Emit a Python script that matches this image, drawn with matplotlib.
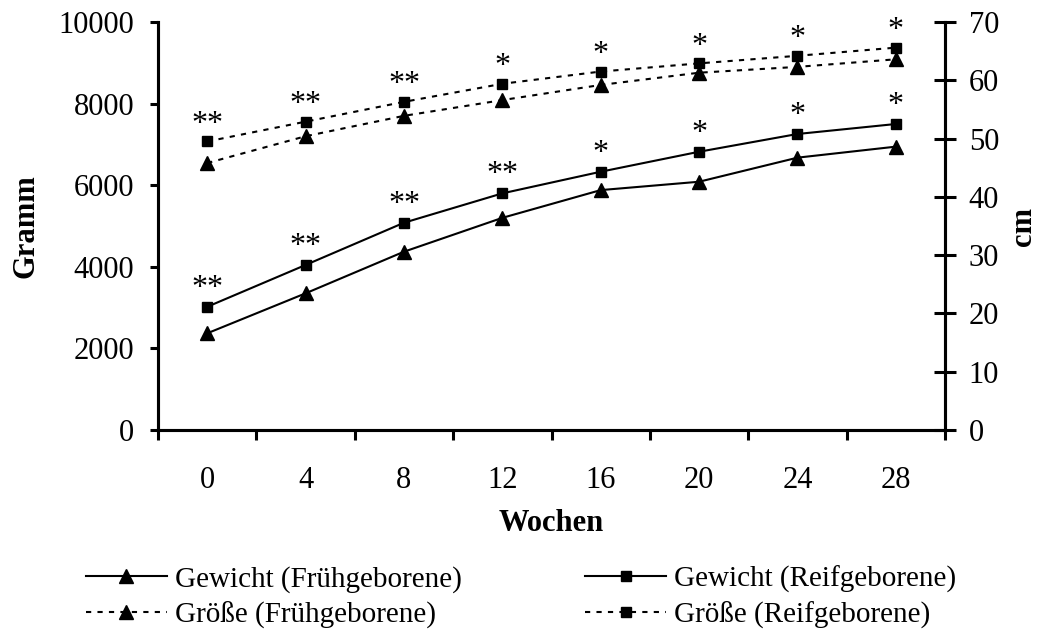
import numpy as np
import matplotlib
matplotlib.use("Agg")
from matplotlib import pyplot as plt

plt.rcParams['font.family'] = ['Liberation Serif', 'DejaVu Serif']

# data
wochen = ['0', '4', '8', '12', '16', '20', '24', '28']
gewicht_frueh = [2370, 3350, 4370, 5200, 5880, 6085, 6675, 6945]
gewicht_reif = [3020, 4045, 5080, 5800, 6330, 6820, 7255, 7500]
groesse_frueh = [45.8, 50.4, 53.9, 56.6, 59.2, 61.3, 62.3, 63.6]
groesse_reif = [49.5, 52.9, 56.3, 59.4, 61.5, 62.9, 64.2, 65.6]
sterne_gewicht = ['**', '**', '**', '**', '*', '*', '*', '*']
sterne_groesse = ['**', '**', '**', '*', '*', '*', '*', '*']

x = np.arange(len(wochen))

fig = plt.figure(figsize=(10.41, 6.32), dpi=100)
ax = fig.add_axes([0.1518, 0.3196, 0.7560, 0.6456])
ax2 = ax.twinx()

dot = (0, (2.5, 3))
l1, = ax.plot(x, gewicht_frueh, color='black', lw=1.5, marker='^', ms=10,
              label='Gewicht (Frühgeborene)')
l2, = ax.plot(x, gewicht_reif, color='black', lw=1.5, marker='s', ms=7,
              label='Gewicht (Reifgeborene)')
l3, = ax2.plot(x, groesse_frueh, color='black', lw=1.5, ls=dot, marker='^', ms=10,
               label='Größe (Frühgeborene)')
l4, = ax2.plot(x, groesse_reif, color='black', lw=1.5, ls=dot, marker='s', ms=7,
               label='Größe (Reifgeborene)')

for i in range(len(x)):
    ax.annotate(sterne_gewicht[i], (x[i], gewicht_reif[i]), xytext=(0, 8),
                textcoords='offset points', ha='center', va='baseline', fontsize=23)
    ax2.annotate(sterne_groesse[i], (x[i], groesse_reif[i]), xytext=(0, 7),
                 textcoords='offset points', ha='center', va='baseline', fontsize=23)

ax.set_xlim(-0.5, 7.5)
ax.set_ylim(0, 10000)
ax2.set_ylim(0, 70)
ax.set_yticks(np.arange(0, 10001, 2000))
ax2.set_yticks(np.arange(0, 71, 10))
ax.set_xticks(np.arange(-0.5, 7.6, 1), minor=False)
ax.set_xticklabels([])
ax.set_xticks(x, minor=True)
ax.set_xticklabels(wochen, minor=True)
ax.tick_params(axis='x', which='major', direction='out', length=7, width=2.2)
ax.tick_params(axis='x', which='minor', length=0, pad=26, labelsize=22)
ax.tick_params(axis='y', direction='out', length=6, width=2.2, pad=11, labelsize=22)
ax2.tick_params(axis='y', direction='inout', length=16, width=2.2, pad=9, labelsize=22)

for a in (ax, ax2):
    a.spines['top'].set_visible(False)
    for s in ('left', 'right', 'bottom'):
        a.spines[s].set_linewidth(2.2)

ax.set_ylabel('Gramm', fontsize=22, fontweight='bold', labelpad=13)
ax2.set_ylabel('cm', fontsize=22, fontweight='bold', rotation=90, labelpad=7)
ax.set_xlabel('Wochen', fontsize=22, fontweight='bold', labelpad=10)

fig.legend([l1, l3, l2, l4], [l1.get_label(), l3.get_label(), l2.get_label(), l4.get_label()],
           ncol=2, loc='upper left', bbox_to_anchor=(0.0826, 0.105), frameon=False,
           fontsize=21, handlelength=2.77, handletextpad=0.27, columnspacing=4.25,
           labelspacing=0.3, borderpad=0, borderaxespad=0)

fig.savefig('out.png', dpi=100)
